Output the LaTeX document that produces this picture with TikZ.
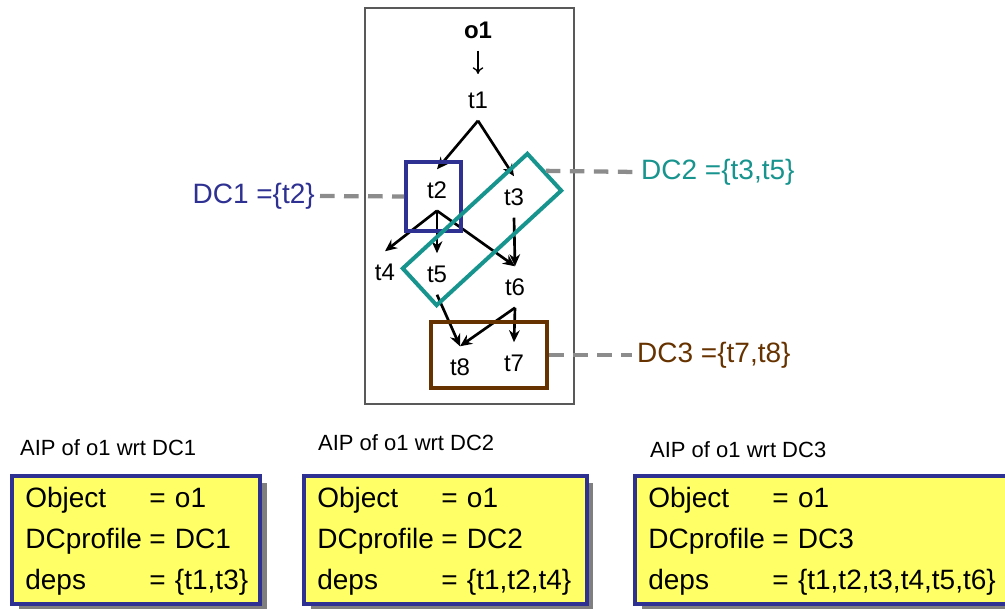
\documentclass[tikz,border=0pt]{standalone}
\usepackage{fontspec}
\setmainfont{Liberation Sans}
\usetikzlibrary{arrows.meta,shadows}
\definecolor{dconecol}{HTML}{2E3192}
\definecolor{dctwocol}{HTML}{17948E}
\definecolor{dcthreecol}{HTML}{663300}
\definecolor{aipyellow}{HTML}{FFFF66}
\definecolor{shadowgray}{HTML}{7F7F7F}
\definecolor{linkgray}{HTML}{8C8C8C}
\newcommand{\aiprows}[2]{\renewcommand{\arraystretch}{1.23}%
  \begin{tabular}{@{}p{93pt}@{}l@{}}Object&= o1\\DCprofile&= #1\\deps&= #2\end{tabular}}

\begin{document}
\begin{tikzpicture}[x=0.75pt,y=-0.75pt,line width=1.1pt,>={Stealth[length=9pt,width=8pt]},
  task/.style={font=\fontsize{18}{21}\selectfont,minimum height=30pt,inner sep=0pt},
  dep/.style={->,line width=2pt},
  dcbox/.style={line width=3pt},
  dclabel/.style={font=\fontsize{21}{25}\selectfont},
  dclink/.style={draw=linkgray,line width=3.2pt,dash pattern=on 11pt off 7pt},
  aip/.style={draw=dconecol,line width=3pt,fill=aipyellow,anchor=north west,align=left,
    inner xsep=10pt,inner ysep=0pt,minimum height=96pt,font=\fontsize{21}{25}\selectfont,
    drop shadow={shadow xshift=5pt,shadow yshift=-5pt,fill=shadowgray,opacity=1}},
  aiptitle/.style={anchor=west,font=\fontsize{16.5}{19}\selectfont}]
\useasboundingbox (0,0) rectangle (1005,609);
% 外框
\draw[line width=0.9pt,draw=black!65] (365,8) rectangle (574,404);
% 任务结点
\node[task,font=\fontsize{18}{21}\selectfont\bfseries] (o1) at (478,30) {o1};
\node[task] (t1) at (478,100) {t1};
\node[task] (t2) at (437,190) {t2};
\node[task] (t3) at (514,197) {t3};
\node[task] (t4) at (385,272) {t4};
\node[task] (t5) at (437,274) {t5};
\node[task] (t6) at (515,287) {t6};
\node[task] (t8) at (460,367) {t8};
\node[task] (t7) at (514,363) {t7};
% 依赖箭头
\draw[-{To[length=5pt,width=8pt]},line width=1pt,shorten >=4pt] (o1.south) -- (t1.north);
\draw[dep] (t1.south) -- (t2.north);
\draw[dep] (t1.south) -- (t3.north);
\draw[dep] (t2.south) -- (t4.north);
\draw[dep] (t2.south) -- (t5.north);
\draw[dep] (t2.south) -- (t6.north);
\draw[dep] (t3.south) -- (t6.north);
\draw[dep] (t5.south) -- (t8.north);
\draw[dep] (t6.south) -- (t8.north);
\draw[dep] (t6.south) -- (t7.north);
% DC 框
\node[dcbox,draw=dconecol,minimum width=41pt,minimum height=52pt] (dconebox) at (433.5,196.5) {};
\node[dcbox,draw=dctwocol,rotate=42.6,minimum width=127pt,minimum height=37.5pt] (dctwobox) at (482,229.5) {};
\node[dcbox,draw=dcthreecol,minimum width=87pt,minimum height=49.5pt] (dcthreebox) at (489,355) {};
% DC 标注
\node[dclabel,text=dconecol,anchor=east] (dcone) at (320,196) {DC1 =\{t2\}};
\node[dclabel,text=dctwocol,anchor=west] (dctwo) at (636,172) {DC2 =\{t3,t5\}};
\node[dclabel,text=dcthreecol,anchor=west] (dcthree) at (632,355) {DC3 =\{t7,t8\}};
\draw[dclink] (dcone.east) -- (dconebox.west);
\draw[dclink] (dctwobox.east) -- (dctwo.west);
\draw[dclink] (dcthreebox.east) -- (dcthree.west);
% AIP 框
\node[aiptitle] (aiponetitle) at (15,448) {AIP of o1 wrt DC1};
\node[aiptitle] (aiptwotitle) at (313,443) {AIP of o1 wrt DC2};
\node[aiptitle] (aipthreetitle) at (645,450) {AIP of o1 wrt DC3};
\node[aip,text width=166pt] (aipone) at (10,474) {\aiprows{DC1}{\{t1,t3\}}};
\node[aip,text width=192pt] (aiptwo) at (302,474) {\aiprows{DC2}{\{t1,t2,t4\}}};
\node[aip,text width=264pt] (aipthree) at (633,474) {\aiprows{DC3}{\{t1,t2,t3,t4,t5,t6\}}};
\end{tikzpicture}
\end{document}
